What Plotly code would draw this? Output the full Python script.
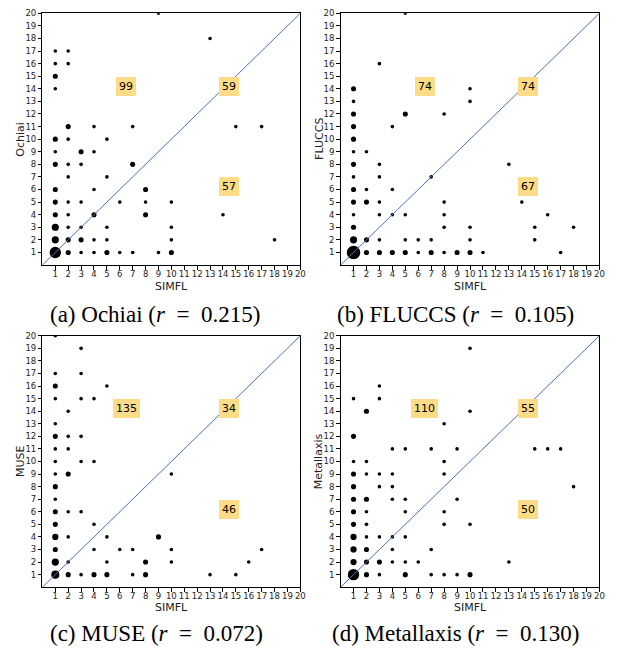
import plotly.graph_objects as go

# ---------------- data: (SIMFL rank, other technique rank, count) ----------------
ochiai_points = [
    (9, 20, 1), (13, 18, 1), (1, 17, 1), (2, 17, 1), (1, 16, 1), (2, 16, 1),
    (1, 15, 2), (1, 14, 1),
    (2, 11, 2), (4, 11, 1), (7, 11, 1), (15, 11, 1), (17, 11, 1),
    (1, 10, 2), (2, 10, 1), (5, 10, 1),
    (1, 9, 1), (3, 9, 2), (4, 9, 1),
    (1, 8, 2), (2, 8, 1), (3, 8, 1), (7, 8, 2),
    (2, 7, 1), (5, 7, 1),
    (1, 6, 2), (4, 6, 1), (8, 6, 2),
    (1, 5, 2), (2, 5, 1), (3, 5, 1), (6, 5, 1), (8, 5, 1), (10, 5, 1),
    (1, 4, 2), (2, 4, 1), (4, 4, 2), (8, 4, 2), (14, 4, 1),
    (1, 3, 4), (2, 3, 1), (3, 3, 1), (5, 3, 1), (10, 3, 1),
    (1, 2, 4), (2, 2, 2), (3, 2, 2), (4, 2, 1), (5, 2, 1), (10, 2, 1), (18, 2, 1),
    (1, 1, 10), (2, 1, 2), (3, 1, 1), (4, 1, 1), (5, 1, 2), (6, 1, 1), (7, 1, 1),
    (9, 1, 1), (10, 1, 2),
]
fluccs_points = [
    (5, 20, 1), (3, 16, 1), (1, 14, 2), (10, 14, 1), (1, 13, 1), (10, 13, 1),
    (1, 12, 2), (5, 12, 2), (8, 12, 1), (1, 11, 2), (4, 11, 1), (1, 10, 2),
    (1, 9, 1), (2, 9, 1), (1, 8, 2), (3, 8, 1), (13, 8, 1),
    (1, 7, 1), (3, 7, 1), (7, 7, 1), (1, 6, 2), (2, 6, 1), (4, 6, 1),
    (1, 5, 2), (2, 5, 2), (3, 5, 1), (8, 5, 1), (14, 5, 1),
    (1, 4, 1), (3, 4, 1), (4, 4, 1), (5, 4, 1), (8, 4, 1), (16, 4, 1),
    (1, 3, 2), (8, 3, 1), (10, 3, 1), (15, 3, 1), (18, 3, 1),
    (1, 2, 4), (2, 2, 2), (3, 2, 1), (5, 2, 1), (6, 2, 1), (7, 2, 1), (10, 2, 1), (15, 2, 1),
    (1, 1, 14), (2, 1, 2), (3, 1, 2), (4, 1, 2), (5, 1, 2), (6, 1, 1), (7, 1, 2),
    (8, 1, 1), (9, 1, 2), (10, 1, 2), (11, 1, 1), (17, 1, 1),
]
muse_points = [
    (1, 20, 1), (3, 19, 1), (1, 17, 1), (3, 17, 1), (1, 16, 2), (5, 16, 1),
    (1, 15, 1), (3, 15, 1), (4, 15, 1), (2, 14, 1), (1, 13, 1),
    (1, 12, 2), (2, 12, 1), (3, 12, 1), (1, 11, 1), (2, 11, 1),
    (1, 10, 1), (3, 10, 1), (4, 10, 1), (1, 9, 1), (2, 9, 2), (10, 9, 1),
    (1, 8, 2), (1, 7, 1), (1, 6, 2), (2, 6, 1), (3, 6, 1), (1, 5, 2), (4, 5, 1),
    (1, 4, 3), (2, 4, 1), (5, 4, 1), (9, 4, 2),
    (1, 3, 2), (4, 3, 1), (6, 3, 1), (7, 3, 1), (10, 3, 1), (17, 3, 1),
    (1, 2, 4), (2, 2, 1), (5, 2, 1), (8, 2, 2), (10, 2, 1), (16, 2, 1),
    (1, 1, 5), (2, 1, 2), (3, 1, 1), (4, 1, 2), (5, 1, 2), (7, 1, 1), (8, 1, 2),
    (13, 1, 1), (15, 1, 1),
]
metallaxis_points = [
    (10, 19, 1), (3, 16, 1), (1, 15, 1), (3, 15, 1), (2, 14, 2), (10, 14, 1),
    (8, 13, 1), (1, 12, 2),
    (4, 11, 1), (5, 11, 1), (7, 11, 1), (9, 11, 1), (15, 11, 1), (16, 11, 1), (17, 11, 1),
    (1, 10, 1), (2, 10, 1), (8, 10, 1),
    (1, 9, 2), (2, 9, 1), (3, 9, 1), (4, 9, 1), (8, 9, 1),
    (1, 8, 2), (3, 8, 1), (4, 8, 1), (18, 8, 1),
    (1, 7, 2), (2, 7, 2), (4, 7, 1), (5, 7, 1), (9, 7, 1),
    (1, 6, 2), (2, 6, 1), (5, 6, 1), (8, 6, 1),
    (1, 5, 2), (2, 5, 1), (8, 5, 1), (10, 5, 1),
    (1, 4, 3), (2, 4, 1), (3, 4, 1), (4, 4, 1), (5, 4, 1),
    (1, 3, 3), (2, 3, 2), (4, 3, 1), (7, 3, 1),
    (1, 2, 3), (2, 2, 2), (3, 2, 2), (4, 2, 1), (5, 2, 1), (6, 2, 1), (13, 2, 1),
    (1, 1, 10), (2, 1, 2), (3, 1, 1), (5, 1, 2), (7, 1, 1), (8, 1, 1), (9, 1, 1), (10, 1, 2),
]

technique_names = ["Ochiai", "FLUCCS", "MUSE", "Metallaxis"]
x_title = "SIMFL"
panel_letters = ["a", "b", "c", "d"]
correlations = ["0.215", "0.105", "0.072", "0.130"]
# region counts: (SIMFL better, equal/both high, other better)
region_counts = [(99, 59, 57), (74, 74, 67), (135, 34, 46), (110, 55, 50)]
tick_vals = list(range(1, 21))
tick_labels = [str(v) for v in tick_vals]
all_points = [ochiai_points, fluccs_points, muse_points, metallaxis_points]

# ---------------- layout geometry (window px; page body has an 8px margin) ----------------
OFF = 8
W, H = 625 - OFF, 652 - OFF


def px_x(v):
    return (v - OFF) / W


def px_y(v):
    return 1 - (v - OFF) / H


plot_left = [42.7, 343.3, 42.7, 343.3]
plot_right = [302.7, 604.3, 302.7, 604.3]
plot_top = [8.3, 8.3, 333.3, 333.3]
plot_bottom = [262, 262, 586.7, 586.7]
caption_x = [155.7, 459, 157.5, 459]
caption_y = [311.7, 311.7, 633, 633]
xtitle_y = [283.5, 283.5, 607.5, 607.5]

fig = go.Figure()
annotations = []
shapes = []
label_positions = [(6.5, 14.2), (14.5, 14.2), (14.5, 6.2)]
title_font = dict(family="DejaVu Sans", size=11, color="#222")

for i, pts in enumerate(all_points):
    idx = "" if i == 0 else str(i + 1)
    xs = [p[0] for p in pts]
    ys = [p[1] for p in pts]
    ns = [p[2] for p in pts]
    sizes = [3.6 * n ** 0.5 for n in ns]
    fig.add_trace(go.Scatter(
        x=xs, y=ys, mode="markers",
        marker=dict(color="black", size=sizes, opacity=1, line=dict(width=0)),
        xaxis="x" + idx, yaxis="y" + idx, showlegend=False,
        cliponaxis=True,
    ))
    axis_common = dict(
        range=[0, 20], tickmode="array", tickvals=tick_vals, ticktext=tick_labels,
        showgrid=False, zeroline=False, showline=True, linecolor="black",
        linewidth=1, mirror=True, ticks="outside", ticklen=3.5, tickwidth=0.8,
        tickcolor="black", tickfont=dict(family="DejaVu Sans", size=8.5, color="#222"),
        fixedrange=True,
    )
    fig.layout["xaxis" + idx] = dict(
        axis_common, domain=(px_x(plot_left[i]), px_x(plot_right[i])), anchor="y" + idx,
        ticklabelstandoff=-3,
    )
    fig.layout["yaxis" + idx] = dict(
        axis_common, domain=(px_y(plot_bottom[i]), px_y(plot_top[i])), anchor="x" + idx,
    )
    # axis titles
    annotations.append(dict(
        x=px_x((plot_left[i] + plot_right[i]) / 2), y=px_y(xtitle_y[i]),
        xref="paper", yref="paper", text=x_title, showarrow=False,
        xanchor="center", yanchor="middle", font=title_font,
    ))
    annotations.append(dict(
        x=px_x(plot_left[i] - 22), y=px_y((plot_top[i] + plot_bottom[i]) / 2),
        xref="paper", yref="paper", text=technique_names[i], showarrow=False,
        textangle=-90, xanchor="center", yanchor="middle", font=title_font,
    ))
    # diagonal
    shapes.append(dict(type="line", xref="x" + idx, yref="y" + idx,
                       x0=0, y0=0, x1=20, y1=20,
                       line=dict(color="#4c72b0", width=1)))
    for (lx, ly), c in zip(label_positions, region_counts[i]):
        annotations.append(dict(
            x=lx, y=ly, xref="x" + idx, yref="y" + idx, text=str(c), showarrow=False,
            font=dict(family="DejaVu Sans", size=11, color="black"),
            bgcolor="#fedb87", bordercolor="#fedb87", borderwidth=1, borderpad=2,
        ))
    annotations.append(dict(
        x=px_x(caption_x[i]), y=px_y(caption_y[i]), xref="paper", yref="paper",
        text=f"({panel_letters[i]}) {technique_names[i]} (<i>r</i>\u2002=\u2002{correlations[i]})",
        showarrow=False, xanchor="center", yanchor="middle",
        font=dict(family="Liberation Serif", size=23, color="black"),
    ))

fig.update_layout(
    width=W, height=H, margin=dict(l=0, r=0, t=0, b=0),
    paper_bgcolor="white", plot_bgcolor="white",
    annotations=annotations, shapes=shapes,
)
fig.write_html("out.html")
